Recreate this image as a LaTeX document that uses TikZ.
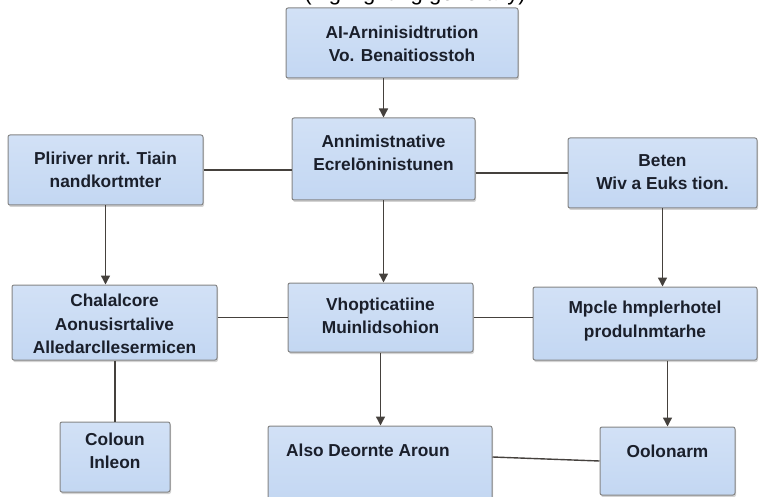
\documentclass[tikz,border=0pt]{standalone}
\usepackage{fontspec}
\setmainfont{Liberation Sans}
\usetikzlibrary{shadows,arrows.meta}
\definecolor{boxfill}{HTML}{C3D7F2}
\definecolor{boxtop}{HTML}{D2E1F6}
\definecolor{boxline}{HTML}{858585}
\definecolor{wire}{HTML}{45413D}
\definecolor{txt}{HTML}{1A1F2B}
\tikzset{
  box/.style={draw=boxline, line width=1pt, rounded corners=2pt,
    top color=boxtop, bottom color=boxfill,
    drop shadow={shadow xshift=1pt, shadow yshift=-2pt, opacity=0.35},
    inner sep=0pt},
  lbl/.style={text=txt, font=\fontsize{17.3}{23.5}\selectfont\bfseries, align=center, inner sep=0pt},
  wirel/.style={draw=wire, line width=1.4pt},
  arr/.style={wirel, -{Triangle[length=9pt,width=9pt]}},
}
\begin{document}
\begin{tikzpicture}[x=1pt,y=-1pt]
\useasboundingbox (0,0) rectangle (763,497);
% partially visible heading
\node[text=black, font=\fontsize{22}{24}\selectfont, anchor=base, inner sep=0pt] (head) at (415,1) {(highlighting generally)};
% boxes
\node[box, minimum width=232pt, minimum height=70pt] (top) at (402,43) {};
\node[lbl] (toptxt) at (402,44) {AI-Arninisidtrution\\Vo. Benaitiosstoh};

\node[box, minimum width=183pt, minimum height=82pt] (mid) at (383.5,159) {};
\node[lbl] (midtxt) at (383.5,153) {Annimistnative\\Ecrelōninistunen};

\node[box, minimum width=195pt, minimum height=70pt] (lt) at (105.5,170) {};
\node[lbl] (lttxt) at (105.5,170) {Pliriver nrit. Tiain\\nandkortmter};

\node[box, minimum width=189pt, minimum height=70pt] (rt) at (662.5,173) {};
\node[lbl] (rttxt) at (662.5,172) {Beten\\Wiv a Euks tion.};

\node[box, minimum width=205pt, minimum height=75pt] (lm) at (114.5,322.5) {};
\node[lbl] (lmtxt) at (114.5,324) {Chalalcore\\Aonusisrtalive\\Alledarcllesermicen};

\node[box, minimum width=185pt, minimum height=69pt] (cm) at (380.5,317.5) {};
\node[lbl] (cmtxt) at (380.5,316) {Vhopticatiine\\Muinlidsohion};

\node[box, minimum width=224pt, minimum height=73pt] (rm) at (645,323.5) {};
\node[lbl] (rmtxt) at (645,321) {Mpcle hmplerhotel\\produlnmtarhe};

\node[box, minimum width=110pt, minimum height=70pt] (co) at (115,457) {};
\node[lbl] (cotxt) at (115,451) {Coloun\\Inleon};

\node[box, minimum width=224pt, minimum height=76pt] (bc) at (380,464) {};
\node[lbl, anchor=west] (bctxt) at (286,450) {Also Deornte Aroun};

\node[box, minimum width=135pt, minimum height=68pt] (br) at (667.5,461) {};
\node[lbl] (brtxt) at (667.5,451) {Oolonarm};

% connectors
\draw[arr] (top.south -| mid.north) -- (mid.north);
\draw[wirel] (lt.east) -- (mid.west |- lt.east);
\draw[wirel] (mid.east |- rt.west) -- (rt.west);
\draw[arr] (lt.south) -- (lt.south |- lm.north);
\draw[arr] (mid.south) -- (mid.south |- cm.north);
\draw[arr] (rt.south) -- (rt.south |- rm.north);
\draw[wirel] (lm.east |- cm.west) -- (cm.west);
\draw[wirel] (cm.east) -- (rm.west |- cm.east);
\draw[wirel] (lm.south -| co.north) -- (co.north);
\draw[arr] (cm.south) -- (cm.south |- bc.north);
\draw[arr] (rm.south -| br.north) -- (br.north);
\coordinate (b1) at (bc.east |- 0,457);
\draw[wirel] (b1) -- (br.west);
\end{tikzpicture}
\end{document}
